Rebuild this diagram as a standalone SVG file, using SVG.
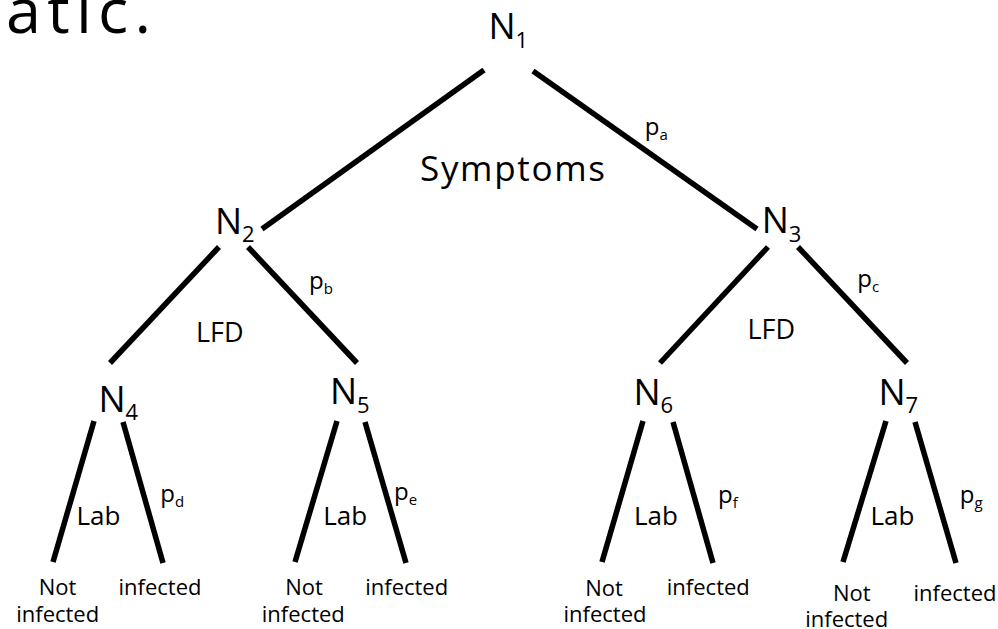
<svg xmlns="http://www.w3.org/2000/svg" width="998" height="629" viewBox="0 0 998 629">
<style>
text{font-family:"Open Sans","DejaVu Sans",sans-serif;fill:#000}
.n{font-size:36px}
.ns{font-size:22px}
.p{font-size:24px}
.ps{font-size:15px}
.lbl{font-size:27px}
.lab{font-size:26px}
.leaf{font-size:22px;text-anchor:middle}
.title{font-size:63px}
#connectors line{stroke:#000;stroke-width:5.5;stroke-linecap:butt}
</style>
<rect width="998" height="629" fill="#fff"/>
<text class="title" x="6" y="33" textLength="145" lengthAdjust="spacing">atic.</text>
<g id="connectors">
<line x1="484" y1="70" x2="262" y2="229"/>
<line x1="533" y1="71" x2="757" y2="229"/>
<line x1="219" y1="247" x2="110" y2="363"/>
<line x1="248" y1="247" x2="357" y2="363"/>
<line x1="768" y1="247" x2="660" y2="363"/>
<line x1="798" y1="247" x2="907" y2="363"/>
<line x1="94" y1="421" x2="53" y2="562"/>
<line x1="123" y1="422" x2="163" y2="563"/>
<line x1="337" y1="421" x2="295" y2="562"/>
<line x1="365" y1="422" x2="406" y2="563"/>
<line x1="643" y1="421" x2="602" y2="562"/>
<line x1="673" y1="422" x2="713" y2="563"/>
<line x1="886" y1="421" x2="843" y2="562"/>
<line x1="915" y1="422" x2="956" y2="563"/>
</g>
<g id="N1"><text class="n" x="488.4" y="39.3">N<tspan class="ns" dy="8.4">1</tspan></text></g>
<g id="N2"><text class="n" x="215" y="234">N<tspan class="ns" dy="8.4">2</tspan></text></g>
<g id="N3"><text class="n" x="761.7" y="233.3">N<tspan class="ns" dy="8.4">3</tspan></text></g>
<g id="N4"><text class="n" x="98.4" y="411.7">N<tspan class="ns" dy="8.4">4</tspan></text></g>
<g id="N5"><text class="n" x="330" y="404.3">N<tspan class="ns" dy="8.4">5</tspan></text></g>
<g id="N6"><text class="n" x="633.4" y="405">N<tspan class="ns" dy="8.4">6</tspan></text></g>
<g id="N7"><text class="n" x="878.4" y="405">N<tspan class="ns" dy="8.4">7</tspan></text></g>
<g id="edge-labels">
<text style="font-size:35px" x="420" y="181" textLength="185" lengthAdjust="spacing">Symptoms</text>
<text class="p" x="644.7" y="135">p<tspan class="ps" dy="5">a</tspan></text>
<text class="p" x="309" y="289">p<tspan class="ps" dy="5">b</tspan></text>
<text class="p" x="857.3" y="286.7">p<tspan class="ps" dy="5">c</tspan></text>
<text class="p" x="160.3" y="501.7">p<tspan class="ps" dy="5">d</tspan></text>
<text class="p" x="394" y="500">p<tspan class="ps" dy="5">e</tspan></text>
<text class="p" x="718" y="503">p<tspan class="ps" dy="5">f</tspan></text>
<text class="p" x="959.7" y="503">p<tspan class="ps" dy="5">g</tspan></text>
<text class="lbl" x="196" y="341.5">LFD</text>
<text class="lbl" x="747.5" y="338.7">LFD</text>
<text class="lab" x="76.5" y="525">Lab</text>
<text class="lab" x="323.2" y="525">Lab</text>
<text class="lab" x="633.9" y="525">Lab</text>
<text class="lab" x="870.5" y="525">Lab</text>
</g>
<g id="leaves">
<text class="leaf" x="57.5" y="595">Not</text>
<text class="leaf" x="57.7" y="622">infected</text>
<text class="leaf" x="160" y="595">infected</text>
<text class="leaf" x="304" y="595">Not</text>
<text class="leaf" x="303.3" y="622">infected</text>
<text class="leaf" x="406.7" y="595">infected</text>
<text class="leaf" x="604" y="596">Not</text>
<text class="leaf" x="605" y="622">infected</text>
<text class="leaf" x="708.3" y="595">infected</text>
<text class="leaf" x="851.7" y="601">Not</text>
<text class="leaf" x="846.7" y="627">infected</text>
<text class="leaf" x="955" y="601">infected</text>
</g>
</svg>
